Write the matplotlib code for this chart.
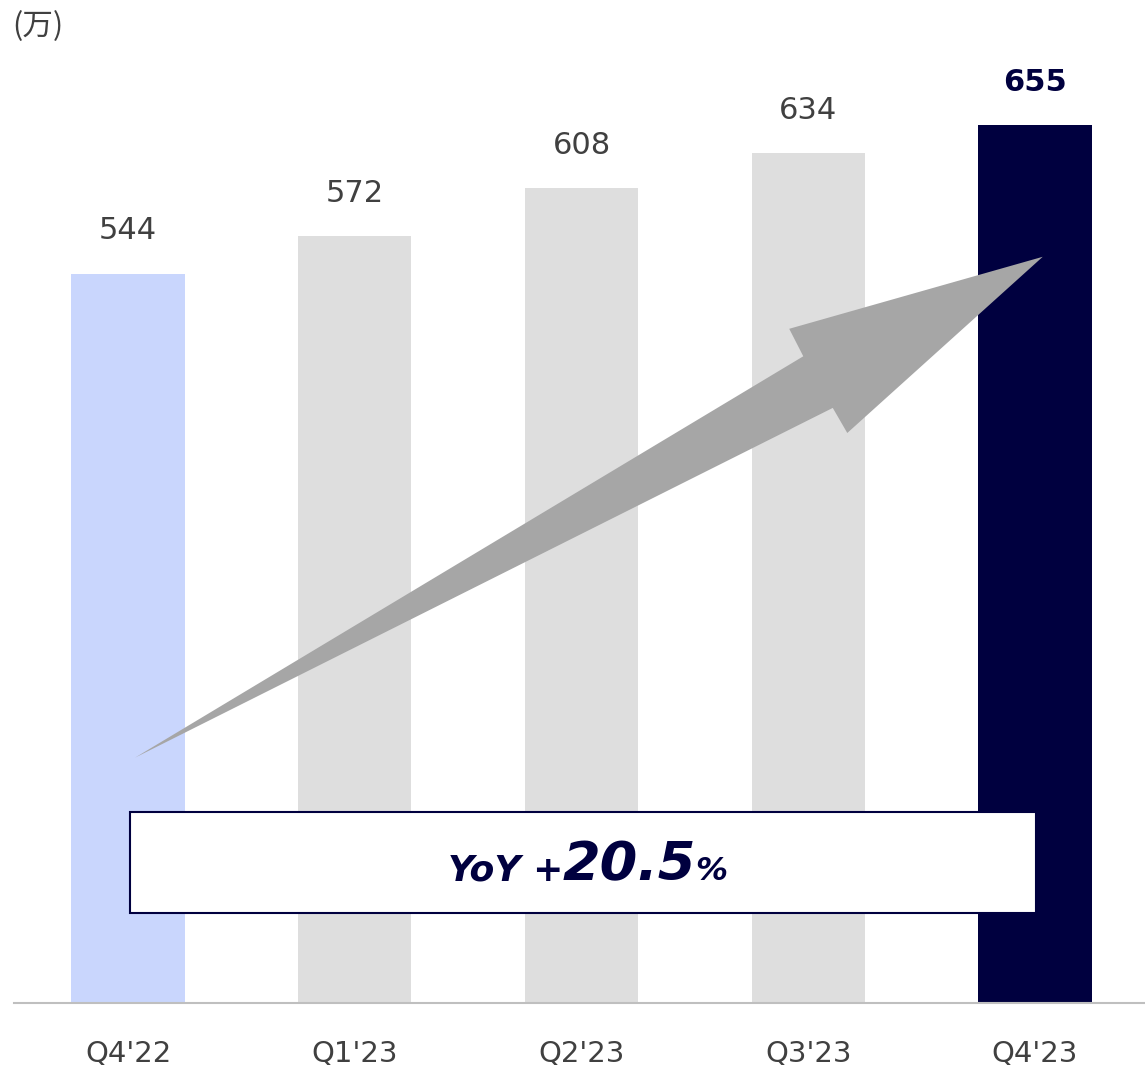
import matplotlib.pyplot as plt
from matplotlib.patches import Polygon, Rectangle

plt.rcParams['font.family'] = ['DejaVu Sans', 'Noto Sans CJK JP']

quarters = ["Q4'22", "Q1'23", "Q2'23", "Q3'23", "Q4'23"]
users = [544, 572, 608, 634, 655]
bar_colors = ['#C9D6FD', '#DEDEDE', '#DEDEDE', '#DEDEDE', '#00003F']
yoy_label = 'YoY +'
yoy_value = '20.5'

NAVY = '#00003F'
GRAY_TXT = '#404040'

fig = plt.figure(figsize=(11.45, 10.65), dpi=100)
ax = fig.add_axes([0.0122, 0.0582, 0.9878, 0.9418])

x = range(len(quarters))
bars = ax.bar(x, users, width=0.5, color=bar_colors, zorder=2)

ax.set_xlim(-0.503, 4.485)
ax.set_ylim(0, 748)

for spine in ['top', 'right', 'left']:
    ax.spines[spine].set_visible(False)
ax.spines['bottom'].set_color('#BFBFBF')
ax.spines['bottom'].set_linewidth(1.5)
ax.set_yticks([])
ax.set_xticks(list(x))
ax.set_xticklabels(quarters, fontsize=21, color=GRAY_TXT)
ax.tick_params(axis='x', length=0, pad=26)

# value labels
for i, (bar, v) in enumerate(zip(bars, users)):
    last = i == len(users) - 1
    ax.text(bar.get_x() + bar.get_width() / 2, v + 21, str(v),
            ha='center', va='bottom',
            fontsize=22,
            fontweight='bold' if last else 'normal',
            color=NAVY if last else GRAY_TXT)

# growth arrow
arrow_pts = [(0.031, 183), (2.978, 482.3), (2.916, 502.8), (4.034, 556.5),
             (3.172, 425.1), (3.108, 443.8)]
ax.add_patch(Polygon(arrow_pts, closed=True, facecolor='#A6A6A6',
                     edgecolor='none', zorder=3))

# YoY box
ax.add_patch(Rectangle((0.009, 67.2), 3.995, 75.3, facecolor='white',
                       edgecolor=NAVY, linewidth=1.5, zorder=4))
yoy_font = dict(family='DejaVu Sans', fontweight='bold', fontstyle='italic',
                color=NAVY, va='baseline', zorder=5)
ax.text(1.918, 91.5, yoy_label, ha='right', fontsize=26, **yoy_font)
t_val = ax.text(1.918, 91.5, yoy_value, ha='left', fontsize=39, **yoy_font)
fig.canvas.draw()
x_end = ax.transData.inverted().transform(
    (t_val.get_window_extent().x1, 0))[0]
ax.text(x_end - 0.005, 91.5, '%', ha='left', fontsize=23, **yoy_font)

fig.text(0.011, 0.975, '(万)', ha='left', va='center', fontsize=22,
         color=GRAY_TXT, family=['Noto Sans CJK JP', 'DejaVu Sans'])

fig.savefig('out.png', dpi=100)
